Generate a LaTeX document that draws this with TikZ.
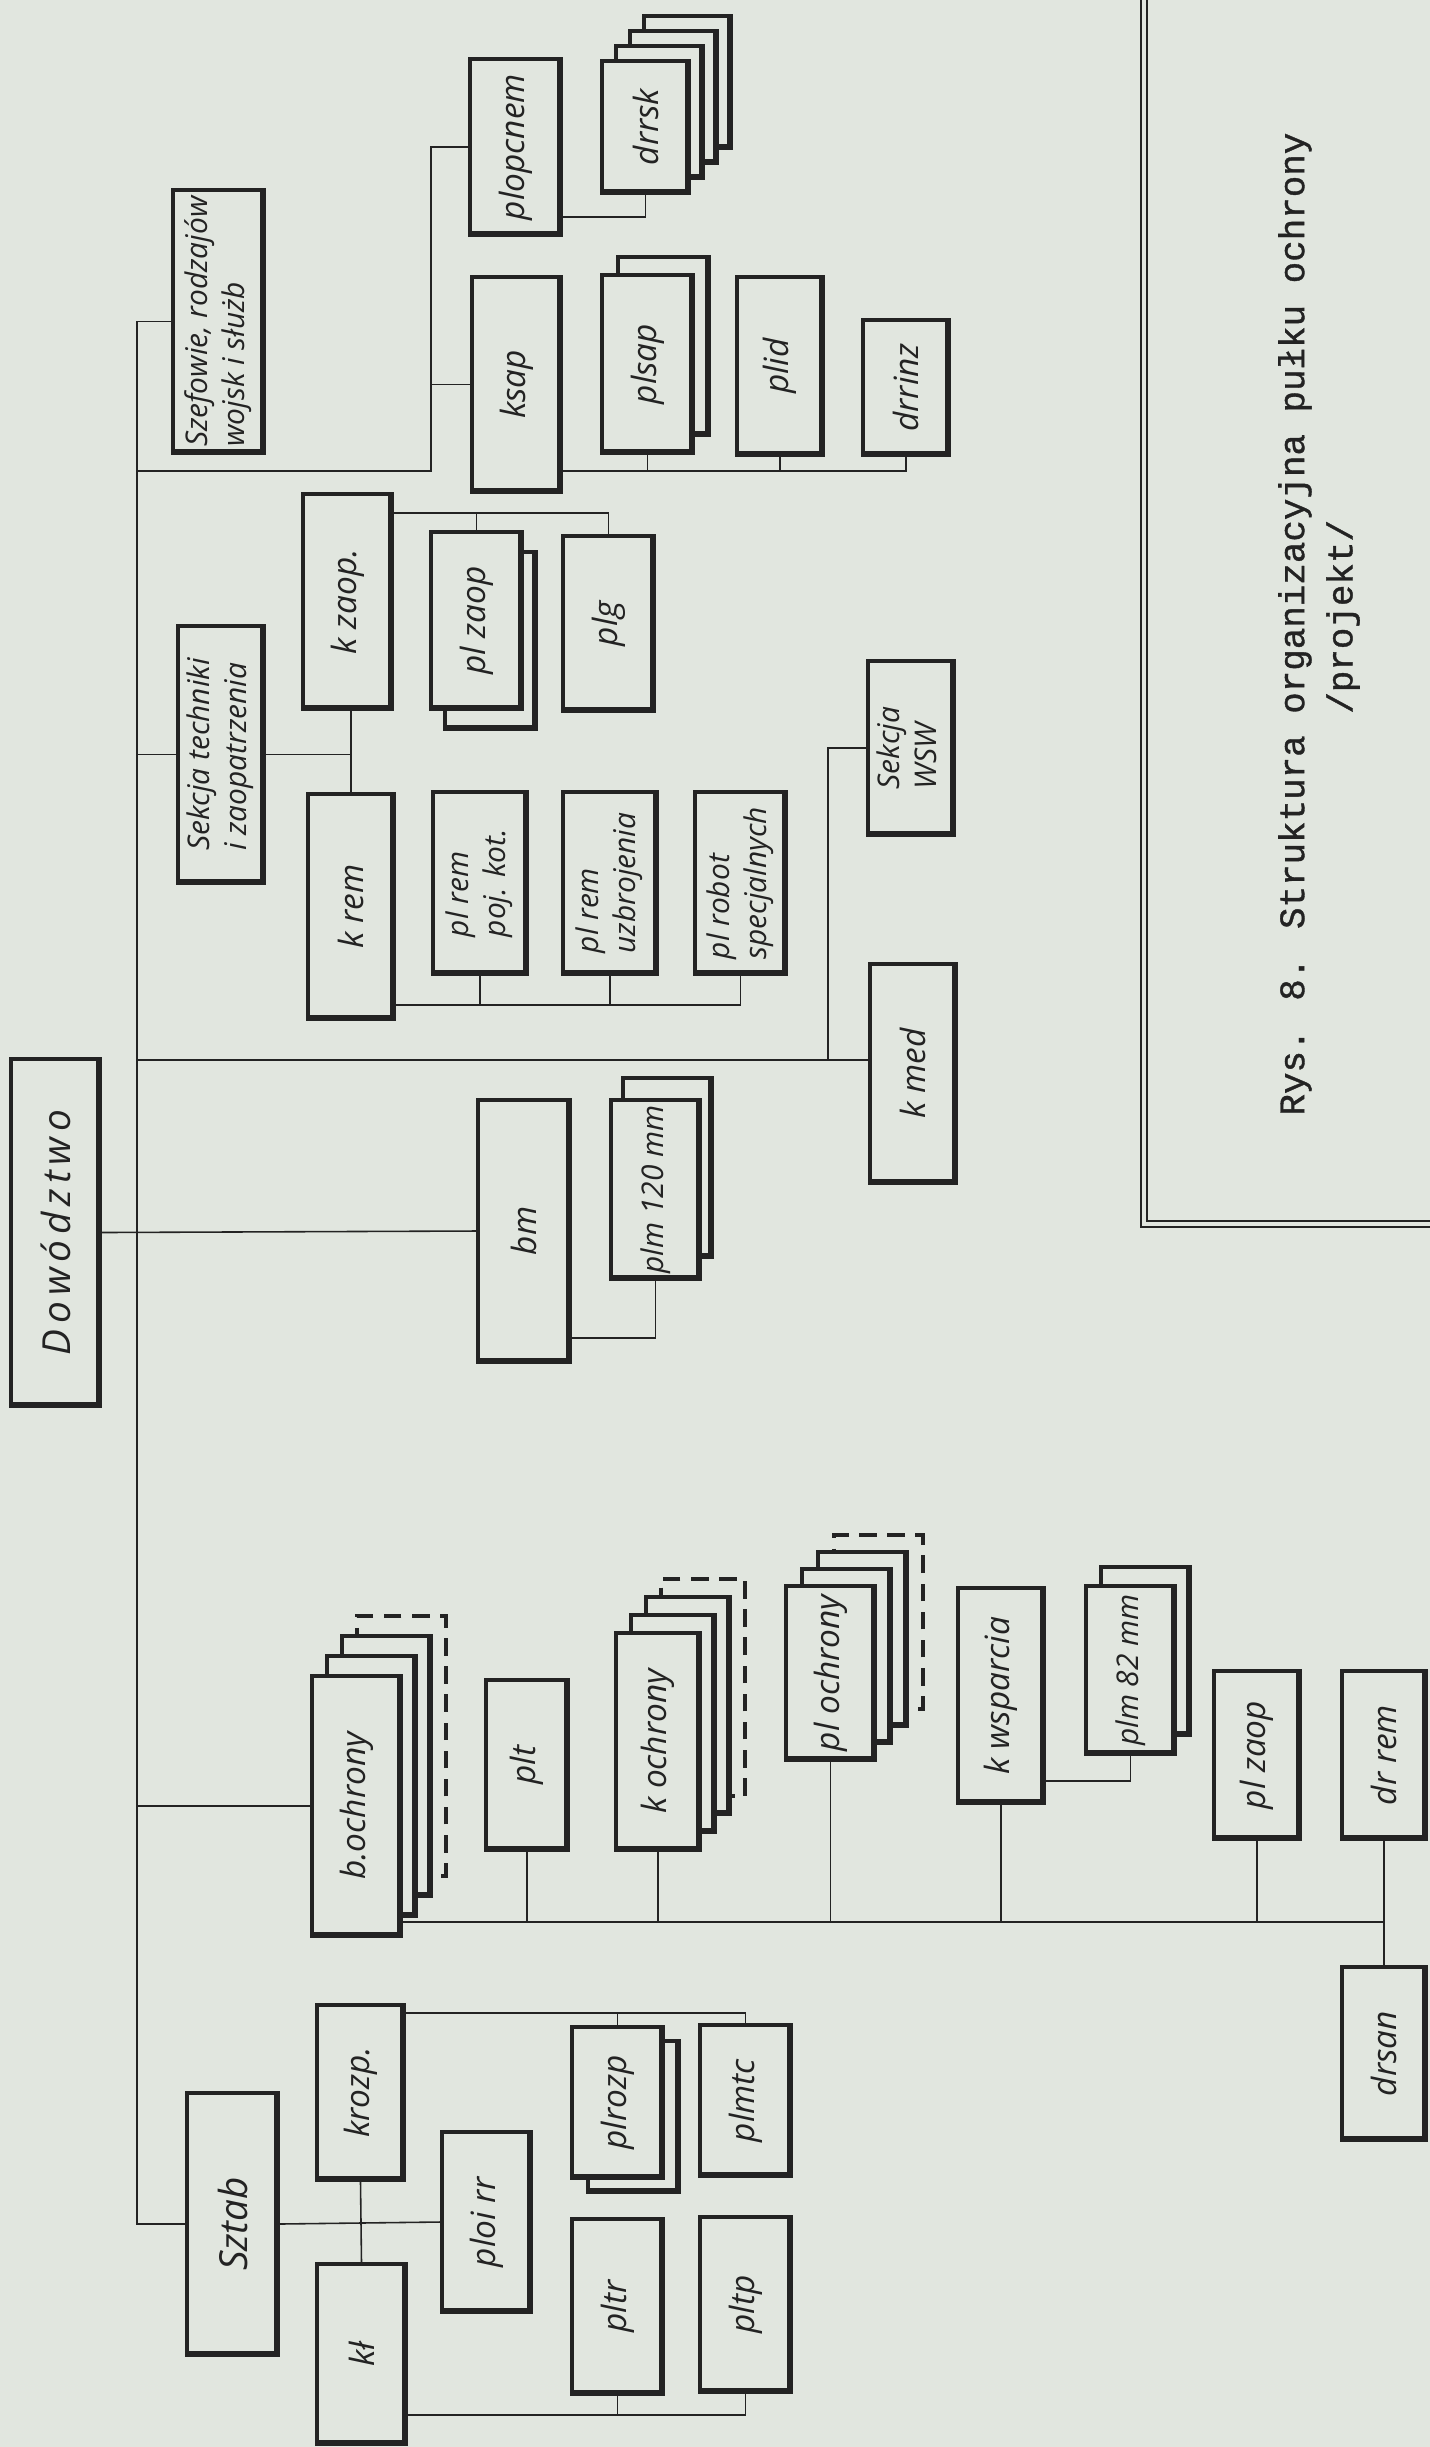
\documentclass[tikz,border=0pt]{standalone}
\usepackage{fontspec}
\usepackage{graphicx}
\newfontfamily\szablon{Open Sans}
\newfontfamily\maszyna{Liberation Mono}[FakeBold=1]
\definecolor{papier}{RGB}{225,230,223}
\definecolor{tusz}{RGB}{35,35,35}
\tikzset{
  jedn/.style={draw=tusz, line width=0.9pt, fill=papier, inner sep=0pt, text=tusz,
    font=\szablon\itshape\fontsize{9.5}{11}\selectfont,
    path picture={\draw[tusz, line width=2.2pt] (path picture bounding box.north east)
      -- (path picture bounding box.south east) -- (path picture bounding box.south west);}},
  dwa/.style={font=\szablon\itshape\fontsize{8.5}{10.5}\selectfont},
  wym/.style 2 args={minimum width=#1cm, minimum height=#2cm},
  przer/.style={draw=tusz, line width=1.1pt, dash pattern=on 5pt off 3pt, fill=papier, inner sep=0pt},
  kres/.style={draw=tusz, line width=0.45pt},
}
\begin{document}
\begin{tikzpicture}[x=0.01cm, y=-0.01cm]
\fill[papier] (0,0) rectangle (1430,2447);
\useasboundingbox (0,0) rectangle (1430,2447);

% ramka podpisu
\draw[tusz, line width=0.6pt, double=papier, double distance=1.3pt] (1144,-20) -- (1144,1224) -- (1460,1224);
\node[rotate=90, align=left, text=tusz, font=\maszyna\fontsize{10.2}{13.7}\selectfont] (podpis) at (1319,624)
  {Rys. 8. Struktura organizacyjna pułku ochrony\\\phantom{Rys. 8. Struktura }/projekt/};

% dowodztwo i szefowie
\node[jedn, wym={0.89}{3.47}, font=\szablon\itshape\fontsize{11}{13}\selectfont\addfontfeature{LetterSpace=15}] (dow) at (55.5,1232.5) {\rotatebox{90}{Dowództwo}};
\node[jedn, dwa, wym={0.91}{2.63}] (szef) at (218.5,321.5) {\rotatebox{90}{\begin{tabular}{@{}l@{}}Szefowie, rodzajów\\wojsk i służb\end{tabular}}};
\node[jedn, dwa, wym={0.86}{2.57}] (sekt) at (221,754.5) {\rotatebox{90}{\begin{tabular}{@{}l@{}}Sekcja techniki\\i zaopatrzenia\end{tabular}}};

% saperzy
\node[jedn, wym={0.91}{1.76}] (plopc) at (515.5,147) {\rotatebox{90}{plopcnem}};
\foreach \i in {3,2,1}
  \node[jedn, wym={0.87}{1.32}] at (645.5+\i*14,127-\i*15) {};
\node[jedn, wym={0.87}{1.32}] (drrsk) at (645.5,127) {\rotatebox{90}{drrsk}};
\node[jedn, wym={0.89}{2.15}] (ksap) at (516.5,384.5) {\rotatebox{90}{ksap}};
\node[jedn, wym={0.91}{1.78}] at (663.5,346) {};
\node[jedn, wym={0.91}{1.78}] (plsap) at (647.5,364) {\rotatebox{90}{plsap}};
\node[jedn, wym={0.86}{1.78}] (plid) at (780,366) {\rotatebox{90}{plid}};
\node[jedn, wym={0.86}{1.35}] (drrinz) at (906,387.5) {\rotatebox{90}{drrinz}};

% zaopatrzenie i remonty
\node[jedn, wym={0.89}{2.15}] (kzaop) at (347.5,601.5) {\rotatebox{90}{k zaop.}};
\node[jedn, wym={0.91}{1.77}] at (490.5,640.5) {};
\node[jedn, wym={0.91}{1.77}] (plzaop) at (476.5,620.5) {\rotatebox{90}{pl zaop}};
\node[jedn, wym={0.91}{1.75}] (plg) at (608.5,623.5) {\rotatebox{90}{plg}};
\node[jedn, wym={0.86}{2.25}] (krem) at (351,906.5) {\rotatebox{90}{k rem}};
\node[jedn, dwa, wym={0.94}{1.82}] (plremk) at (480,883) {\rotatebox{90}{\begin{tabular}{@{}l@{}}pl rem\\poj. kot.\end{tabular}}};
\node[jedn, dwa, wym={0.94}{1.82}] (plremu) at (610,883) {\rotatebox{90}{\begin{tabular}{@{}l@{}}pl rem\\uzbrojenia\end{tabular}}};
\node[jedn, dwa, wym={0.91}{1.82}] (plrob) at (740.5,883) {\rotatebox{90}{\begin{tabular}{@{}l@{}}pl robot\\specjalnych\end{tabular}}};
\node[jedn, dwa, wym={0.86}{1.74}] (wsw) at (911,748) {\rotatebox{90}{\begin{tabular}{@{}l@{}}Sekcja\\WSW\end{tabular}}};
\node[jedn, wym={0.86}{2.19}] (kmed) at (913,1073.5) {\rotatebox{90}{k med}};

% moździerze
\node[jedn, wym={0.92}{2.62}] (bm) at (524,1231) {\rotatebox{90}{bm}};
\node[jedn, wym={0.89}{1.79}] at (667.5,1167.5) {};
\node[jedn, dwa, wym={0.89}{1.79}] (plms) at (655.5,1189.5) {\rotatebox{90}{plm 120 mm}};

% bataliony ochrony
\node[przer, wym={0.89}{2.60}] at (356.5+45,1806-60) {};
\foreach \i in {2,1}
  \node[jedn, wym={0.89}{2.60}] at (356.5+\i*15,1806-\i*20) {};
\node[jedn, wym={0.89}{2.60}] (boch) at (356.5,1806) {\rotatebox{90}{b.ochrony}};
\node[jedn, wym={0.82}{1.70}] (plt) at (527,1765) {\rotatebox{90}{plt}};
\node[przer, wym={0.84}{2.17}] at (658+45,1741.5-54) {};
\foreach \i in {2,1}
  \node[jedn, wym={0.84}{2.17}] at (658+\i*15,1741.5-\i*18) {};
\node[jedn, wym={0.84}{2.17}] (koch) at (658,1741.5) {\rotatebox{90}{k ochrony}};
\node[przer, wym={0.89}{1.74}] at (830.5+48,1673-51) {};
\foreach \i in {2,1}
  \node[jedn, wym={0.89}{1.74}] at (830.5+\i*16,1673-\i*17) {};
\node[jedn, wym={0.89}{1.74}] (ploch) at (830.5,1673) {\rotatebox{90}{pl ochrony}};
\node[jedn, wym={0.86}{2.15}] (kwsp) at (1001,1695.5) {\rotatebox{90}{k wsparcia}};
\node[jedn, wym={0.89}{1.68}] at (1145.5,1651) {};
\node[jedn, dwa, wym={0.89}{1.68}] (plm82) at (1130.5,1670) {\rotatebox{90}{plm 82 mm}};
\node[jedn, wym={0.86}{1.68}] (plzaop2) at (1257,1755) {\rotatebox{90}{pl zaop}};
\node[jedn, wym={0.84}{1.68}] (drrem) at (1384,1755) {\rotatebox{90}{dr rem}};
\node[jedn, wym={0.84}{1.73}] (drsan) at (1384,2053.5) {\rotatebox{90}{drsan}};

% sztab
\node[jedn, wym={0.91}{2.62}, font=\szablon\itshape\fontsize{11}{13}\selectfont] (sztab) at (232.5,2224) {\rotatebox{90}{Sztab}};
\node[jedn, wym={0.87}{1.75}] (krozp) at (360.5,2092.5) {\rotatebox{90}{krozp.}};
\node[jedn, wym={0.89}{1.80}] (kl) at (361.5,2354) {\rotatebox{90}{kł}};
\node[jedn, wym={0.89}{1.80}] (ploirr) at (486.5,2222) {\rotatebox{90}{ploi rr}};
\node[jedn, wym={0.91}{1.51}] at (633.5,2116.5) {};
\node[jedn, wym={0.91}{1.51}] (plrozp) at (617.5,2102.5) {\rotatebox{90}{plrozp}};
\node[jedn, wym={0.91}{1.51}] (plmtc) at (745.5,2100.5) {\rotatebox{90}{plmtc}};
\node[jedn, wym={0.91}{1.75}] (pltr) at (617.5,2306.5) {\rotatebox{90}{pltr}};
\node[jedn, wym={0.91}{1.75}] (pltp) at (745.5,2304.5) {\rotatebox{90}{pltp}};

% linie podporzadkowania
\coordinate (pion) at (137,0);
\coordinate (w1) at (431,471);
\coordinate (w2) at (828,1060);
\coordinate (l217) at (0,217);
\coordinate (l471) at (0,471);
\coordinate (l513) at (0,513);
\coordinate (l1005) at (0,1005);
\coordinate (l1060) at (0,1060);
\coordinate (l1338) at (0,1338);
\coordinate (l1781) at (0,1781);
\coordinate (l1922) at (0,1922);
\coordinate (l2013) at (0,2013);
\coordinate (l2415) at (0,2415);

\draw[kres] (szef.west) -- (szef.west -| pion) -- (sztab.west -| pion) -- (sztab.west);
\draw[kres] (pion |- w1) -- (w1) |- (plopc.west);
\draw[kres] (w1 |- ksap.west) -- (ksap.west);
\draw[kres] (plopc.east |- l217) -| (drrsk.south);
\draw[kres] (ksap.east |- l471) -- (drrinz.south |- l471) -- (drrinz.south);
\draw[kres] (plsap.south) -- (plsap.south |- l471);
\draw[kres] (plid.south) -- (plid.south |- l471);

\draw[kres] (pion |- sekt.west) -- (sekt.west);
\draw[kres] (sekt.east) -- (sekt.east -| krem.north);
\draw[kres] (kzaop.south -| krem.north) -- (krem.north);
\draw[kres] (kzaop.east |- l513) -- (plg.north |- l513) -- (plg.north);
\draw[kres] (plzaop.north |- l513) -- (plzaop.north);
\draw[kres] (krem.east |- l1005) -- (plrob.south |- l1005) -- (plrob.south);
\draw[kres] (plremk.south) -- (plremk.south |- l1005);
\draw[kres] (plremu.south) -- (plremu.south |- l1005);
\draw[kres] (pion |- l1060) -- (kmed.west |- l1060);
\draw[kres] (w2) |- (wsw.west);

\draw[kres] (dow.east) -- (bm.west);
\draw[kres] (plms.south) |- (bm.east |- l1338);

\draw[kres] (pion |- boch.west) -- (boch.west);
\draw[kres] (boch.east |- l1922) -- (drrem.south |- l1922);
\foreach \n in {plt,koch,ploch,kwsp,plzaop2,drrem}
  \draw[kres] (\n.south) -- (\n.south |- l1922);
\draw[kres] (drrem.south) -- (drsan.north);
\draw[kres] (kwsp.east |- l1781) -| (plm82.south);

\draw[kres] (sztab.east) -- (ploirr.west);
\draw[kres] (krozp.south) -- (kl.north);
\draw[kres] (krozp.east |- l2013) -- (plmtc.north |- l2013) -- (plmtc.north);
\draw[kres] (plrozp.north |- l2013) -- (plrozp.north);
\draw[kres] (kl.east |- l2415) -- (pltp.south |- l2415) -- (pltp.south);
\draw[kres] (pltr.south) -- (pltr.south |- l2415);
\end{tikzpicture}
\end{document}
